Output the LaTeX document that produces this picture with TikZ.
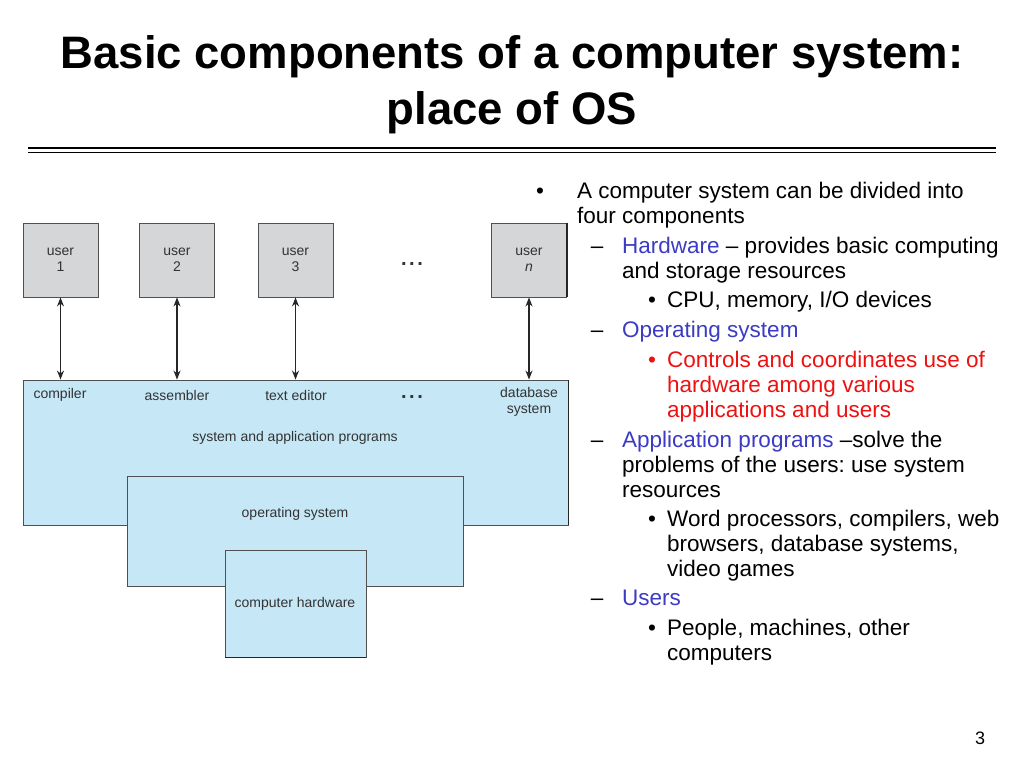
\documentclass[tikz,border=0pt]{standalone}
\usepackage{fontspec}
\setmainfont{Liberation Sans}
\frenchspacing
\usetikzlibrary{arrows.meta}
\definecolor{boxblue}{HTML}{C6E7F6}
\definecolor{boxgray}{HTML}{D4D6D8}
\definecolor{edge}{HTML}{505050}
\definecolor{difftext}{HTML}{333333}
\definecolor{hiblue}{HTML}{3B3BC4}
\definecolor{hired}{HTML}{EE1111}
\tikzset{
  userbox/.style={draw=edge, fill=boxgray, line width=0.9pt, minimum width=75pt, minimum height=74pt, inner sep=0pt, align=center, text=difftext, font=\fontsize{14}{16}\selectfont},
  layerbox/.style={draw=edge, fill=boxblue, line width=0.9pt, inner sep=0pt},
  dlabel/.style={text=difftext, font=\fontsize{14}{15.5}\selectfont, align=center, inner sep=0pt},
  dotlabel/.style={text=black!80, font=\fontsize{20}{20}\selectfont\bfseries, inner sep=0pt},
  link/.style={{Stealth[length=9pt,width=7pt]}-{Stealth[length=9pt,width=7pt]}, line width=1.1pt, draw=black!85},
  body/.style={anchor=base west, inner sep=0pt, font=\fontsize{22.5}{25}\selectfont},
  bulletmark/.style={anchor=base, inner sep=0pt, font=\fontsize{22.5}{25}\selectfont},
}
\begin{document}
\begin{tikzpicture}[x=1pt,y=-1pt]
\useasboundingbox[fill=white] (0,0) rectangle (1024,768);
% title
\node[align=center, font=\fontsize{45.5}{56}\selectfont\bfseries, inner sep=0pt] (title) at (512,85) {Basic components of a computer system:\\place of OS};
\draw[line width=2pt] (28,148) coordinate (r1a) -- (996,148) coordinate (r1b);
\draw[line width=1pt] (28,152.5) coordinate (r2a) -- (996,152.5) coordinate (r2b);

% layers
\node[layerbox, minimum width=545pt, minimum height=145pt] (app) at (295.5,452.5) {};
\draw[line width=1.6pt, draw=black!85] (app.north east) -- (app.south east);
\node[layerbox, minimum width=336pt, minimum height=110pt] (os) at (295,531) {};
\node[layerbox, minimum width=141pt, minimum height=107pt] (hw) at (295.5,603.5) {};
\draw[line width=1.4pt, draw=black!85] (hw.south west) -- (hw.south east);

% users
\node[userbox] (u1) at (60.5,260) {user\\1};
\node[userbox] (u2) at (177,260) {user\\2};
\node[userbox] (u3) at (295.5,260) {user\\3};
\node[userbox] (un) at (529,260) {user\\\textit{n}};
\draw[line width=1.6pt, draw=black!85] (un.north east) -- (un.south east);
\node[dotlabel] (udots) at (412,264) {.\hspace{2.5pt}.\hspace{2.5pt}.};

% programs
\node[dlabel] (comp) at (60,395) {compiler};
\node[dlabel] (asm) at (177,395) {assembler};
\node[dlabel] (ted) at (296,395) {text editor};
\node[dotlabel] (pdots) at (412,397) {.\hspace{2.5pt}.\hspace{2.5pt}.};
\node[dlabel] (db) at (529,402) {database\\system};
\node[dlabel] (applbl) at (295,438) {system and application programs};
\node[dlabel] (oslbl) at (295,514) {operating system};
\node[dlabel] (hwlbl) at (295,604) {computer hardware};

% connectors
\draw[link] (u1.south) -- (u1.south |- app.north);
\draw[link] (u2.south) -- (u2.south |- app.north);
\draw[link] (u3.south) -- (u3.south |- app.north);
\draw[link] (un.south) -- (un.south |- app.north);

% right text
\node[bulletmark] (b1) at (540,198) {•};
\node[body] (t1) at (577,198) {A computer system can be divided into};
\node[body] (t2) at (577,223) {four components};
\node[bulletmark] (d1) at (597,253) {–};
\node[body] (t3) at (622,253) {\textcolor{hiblue}{Hardware} – provides basic computing};
\node[body] (t4) at (622,278) {and storage resources};
\node[bulletmark] (s1) at (652,307) {•};
\node[body] (t5) at (667,307) {CPU, memory, I/O devices};
\node[bulletmark] (d2) at (597,337) {–};
\node[body, text=hiblue] (t6) at (622,337) {Operating system};
\node[bulletmark, text=hired] (s2) at (652,367) {•};
\node[body, text=hired] (t7) at (667,367) {Controls and coordinates use of};
\node[body, text=hired] (t8) at (667,392) {hardware among various};
\node[body, text=hired] (t9) at (667,417) {applications and users};
\node[bulletmark] (d3) at (597,447) {–};
\node[body] (t10) at (622,447) {\textcolor{hiblue}{Application programs} –solve the};
\node[body] (t11) at (622,472) {problems of the users: use system};
\node[body] (t12) at (622,497) {resources};
\node[bulletmark] (s3) at (652,526) {•};
\node[body] (t13) at (667,526) {Word processors, compilers, web};
\node[body] (t14) at (667,551) {browsers, database systems,};
\node[body] (t15) at (667,576) {video games};
\node[bulletmark] (d4) at (597,605) {–};
\node[body, text=hiblue] (t16) at (622,605) {Users};
\node[bulletmark] (s4) at (652,635) {•};
\node[body] (t17) at (667,635) {People, machines, other};
\node[body] (t18) at (667,660) {computers};

\node[font=\fontsize{18}{18}\selectfont, inner sep=0pt] (pg) at (980,738) {3};
\end{tikzpicture}
\end{document}
